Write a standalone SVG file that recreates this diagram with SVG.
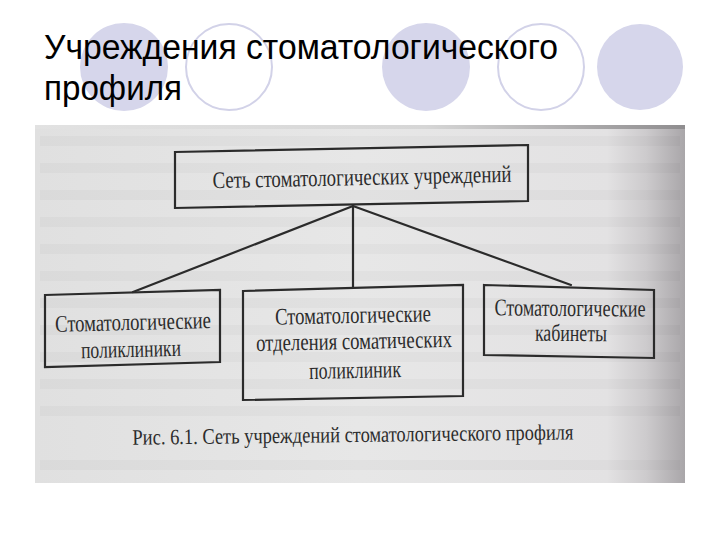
<svg xmlns="http://www.w3.org/2000/svg" width="720" height="540" viewBox="0 0 720 540">
<defs>
<linearGradient id="scan" x1="35" y1="0" x2="685" y2="0" gradientUnits="userSpaceOnUse">
<stop offset="0" stop-color="#e0e0e0"/>
<stop offset="0.5" stop-color="#e7e7e7"/>
<stop offset="0.88" stop-color="#e3e2e3"/>
<stop offset="0.94" stop-color="#cdcbcd"/>
<stop offset="1" stop-color="#a9a6a9"/>
</linearGradient>
<linearGradient id="edge" x1="35" y1="0" x2="685" y2="0" gradientUnits="userSpaceOnUse">
<stop offset="0" stop-color="#e2e2e2"/>
<stop offset="0.6" stop-color="#d6d6d6"/>
<stop offset="1" stop-color="#8f8d8f"/>
</linearGradient>
</defs>
<style>
.title{font-family:"Liberation Sans",Arial,sans-serif;font-size:35px;fill:#000}
.deco-fill{fill:#d6d6eb}
.deco-ring{fill:none;stroke:#d2d2e8;stroke-width:2}
.bleed{fill:#000;opacity:0.022}
.box{fill:none;stroke:#2b2b2b;stroke-width:2.2;stroke-linejoin:miter}
.conn{stroke:#2b2b2b;stroke-width:2.2;fill:none;stroke-linecap:round}
.lbl{font-family:"Liberation Serif","Times New Roman",serif;font-size:24px;fill:#2c2c2c;text-anchor:middle}
.cap{font-family:"Liberation Serif","Times New Roman",serif;font-size:22px;fill:#2c2c2c;text-anchor:middle}
</style>

<g id="decoration">
<circle class="deco-fill" cx="124" cy="67" r="44"/>
<circle class="deco-ring" cx="229" cy="67" r="43"/>
<circle class="deco-fill" cx="426" cy="67" r="44"/>
<circle class="deco-ring" cx="541" cy="67" r="43"/>
<circle class="deco-fill" cx="640" cy="67" r="43"/>
</g>

<g id="title">
<text class="title" x="44" y="59" textLength="514" lengthAdjust="spacingAndGlyphs">Учреждения стоматологического</text>
<text class="title" x="44" y="100" textLength="138" lengthAdjust="spacingAndGlyphs">профиля</text>
</g>

<g id="scan-background">
<rect x="35" y="125" width="650" height="358" fill="url(#scan)"/>
<rect x="35" y="125" width="650" height="4" fill="url(#edge)"/>
<rect class="bleed" x="40" y="136" width="640" height="10"/>
<rect class="bleed" x="40" y="163" width="640" height="10"/>
<rect class="bleed" x="40" y="190" width="640" height="10"/>
<rect class="bleed" x="40" y="217" width="640" height="10"/>
<rect class="bleed" x="40" y="244" width="640" height="10"/>
<rect class="bleed" x="40" y="271" width="640" height="10"/>
<rect class="bleed" x="40" y="298" width="640" height="10"/>
<rect class="bleed" x="40" y="325" width="640" height="10"/>
<rect class="bleed" x="40" y="352" width="640" height="10"/>
<rect class="bleed" x="40" y="379" width="640" height="10"/>
<rect class="bleed" x="40" y="406" width="640" height="10"/>
<rect class="bleed" x="40" y="460" width="640" height="10"/>
</g>

<g id="connectors">
<line class="conn" x1="353" y1="206" x2="133" y2="292"/>
<line class="conn" x1="353" y1="206" x2="353" y2="287"/>
<line class="conn" x1="353" y1="206" x2="571" y2="285"/>
</g>

<g id="node-root">
<polygon class="box" points="175,152 528,145 528,201 175,208"/>
<text class="lbl" x="362" y="185" textLength="299" lengthAdjust="spacingAndGlyphs" transform="rotate(-1.2 362 178)">Сеть стоматологических учреждений</text>
</g>

<g id="node-polyclinics">
<polygon class="box" points="45,295 220,290 220,362 45,367"/>
<text class="lbl" x="133" y="330" textLength="156" lengthAdjust="spacingAndGlyphs" transform="rotate(-1.4 133 324)">Стоматологические</text>
<text class="lbl" x="131" y="357" textLength="100" lengthAdjust="spacingAndGlyphs" transform="rotate(-1.4 131 351)">поликлиники</text>
</g>

<g id="node-departments">
<polygon class="box" points="243,291 463,285 463,396 243,400"/>
<text class="lbl" x="353" y="323" textLength="156" lengthAdjust="spacingAndGlyphs" transform="rotate(-1.2 353 317)">Стоматологические</text>
<text class="lbl" x="354" y="349" textLength="196" lengthAdjust="spacingAndGlyphs" transform="rotate(-1.2 354 343)">отделения соматических</text>
<text class="lbl" x="355" y="378" textLength="92" lengthAdjust="spacingAndGlyphs" transform="rotate(-1.2 355 372)">поликлиник</text>
</g>

<g id="node-offices">
<polygon class="box" points="484,285 654,290 654,358 484,355"/>
<text class="lbl" x="570" y="316" textLength="151" lengthAdjust="spacingAndGlyphs" transform="rotate(0.5 570 310)">Стоматологические</text>
<text class="lbl" x="571" y="341" textLength="72" lengthAdjust="spacingAndGlyphs" transform="rotate(0.5 571 335)">кабинеты</text>
</g>

<g id="caption">
<text class="cap" x="353" y="442" textLength="441" lengthAdjust="spacingAndGlyphs" transform="rotate(-0.7 353 436)">Рис. 6.1. Сеть учреждений стоматологического профиля</text>
</g>
</svg>
